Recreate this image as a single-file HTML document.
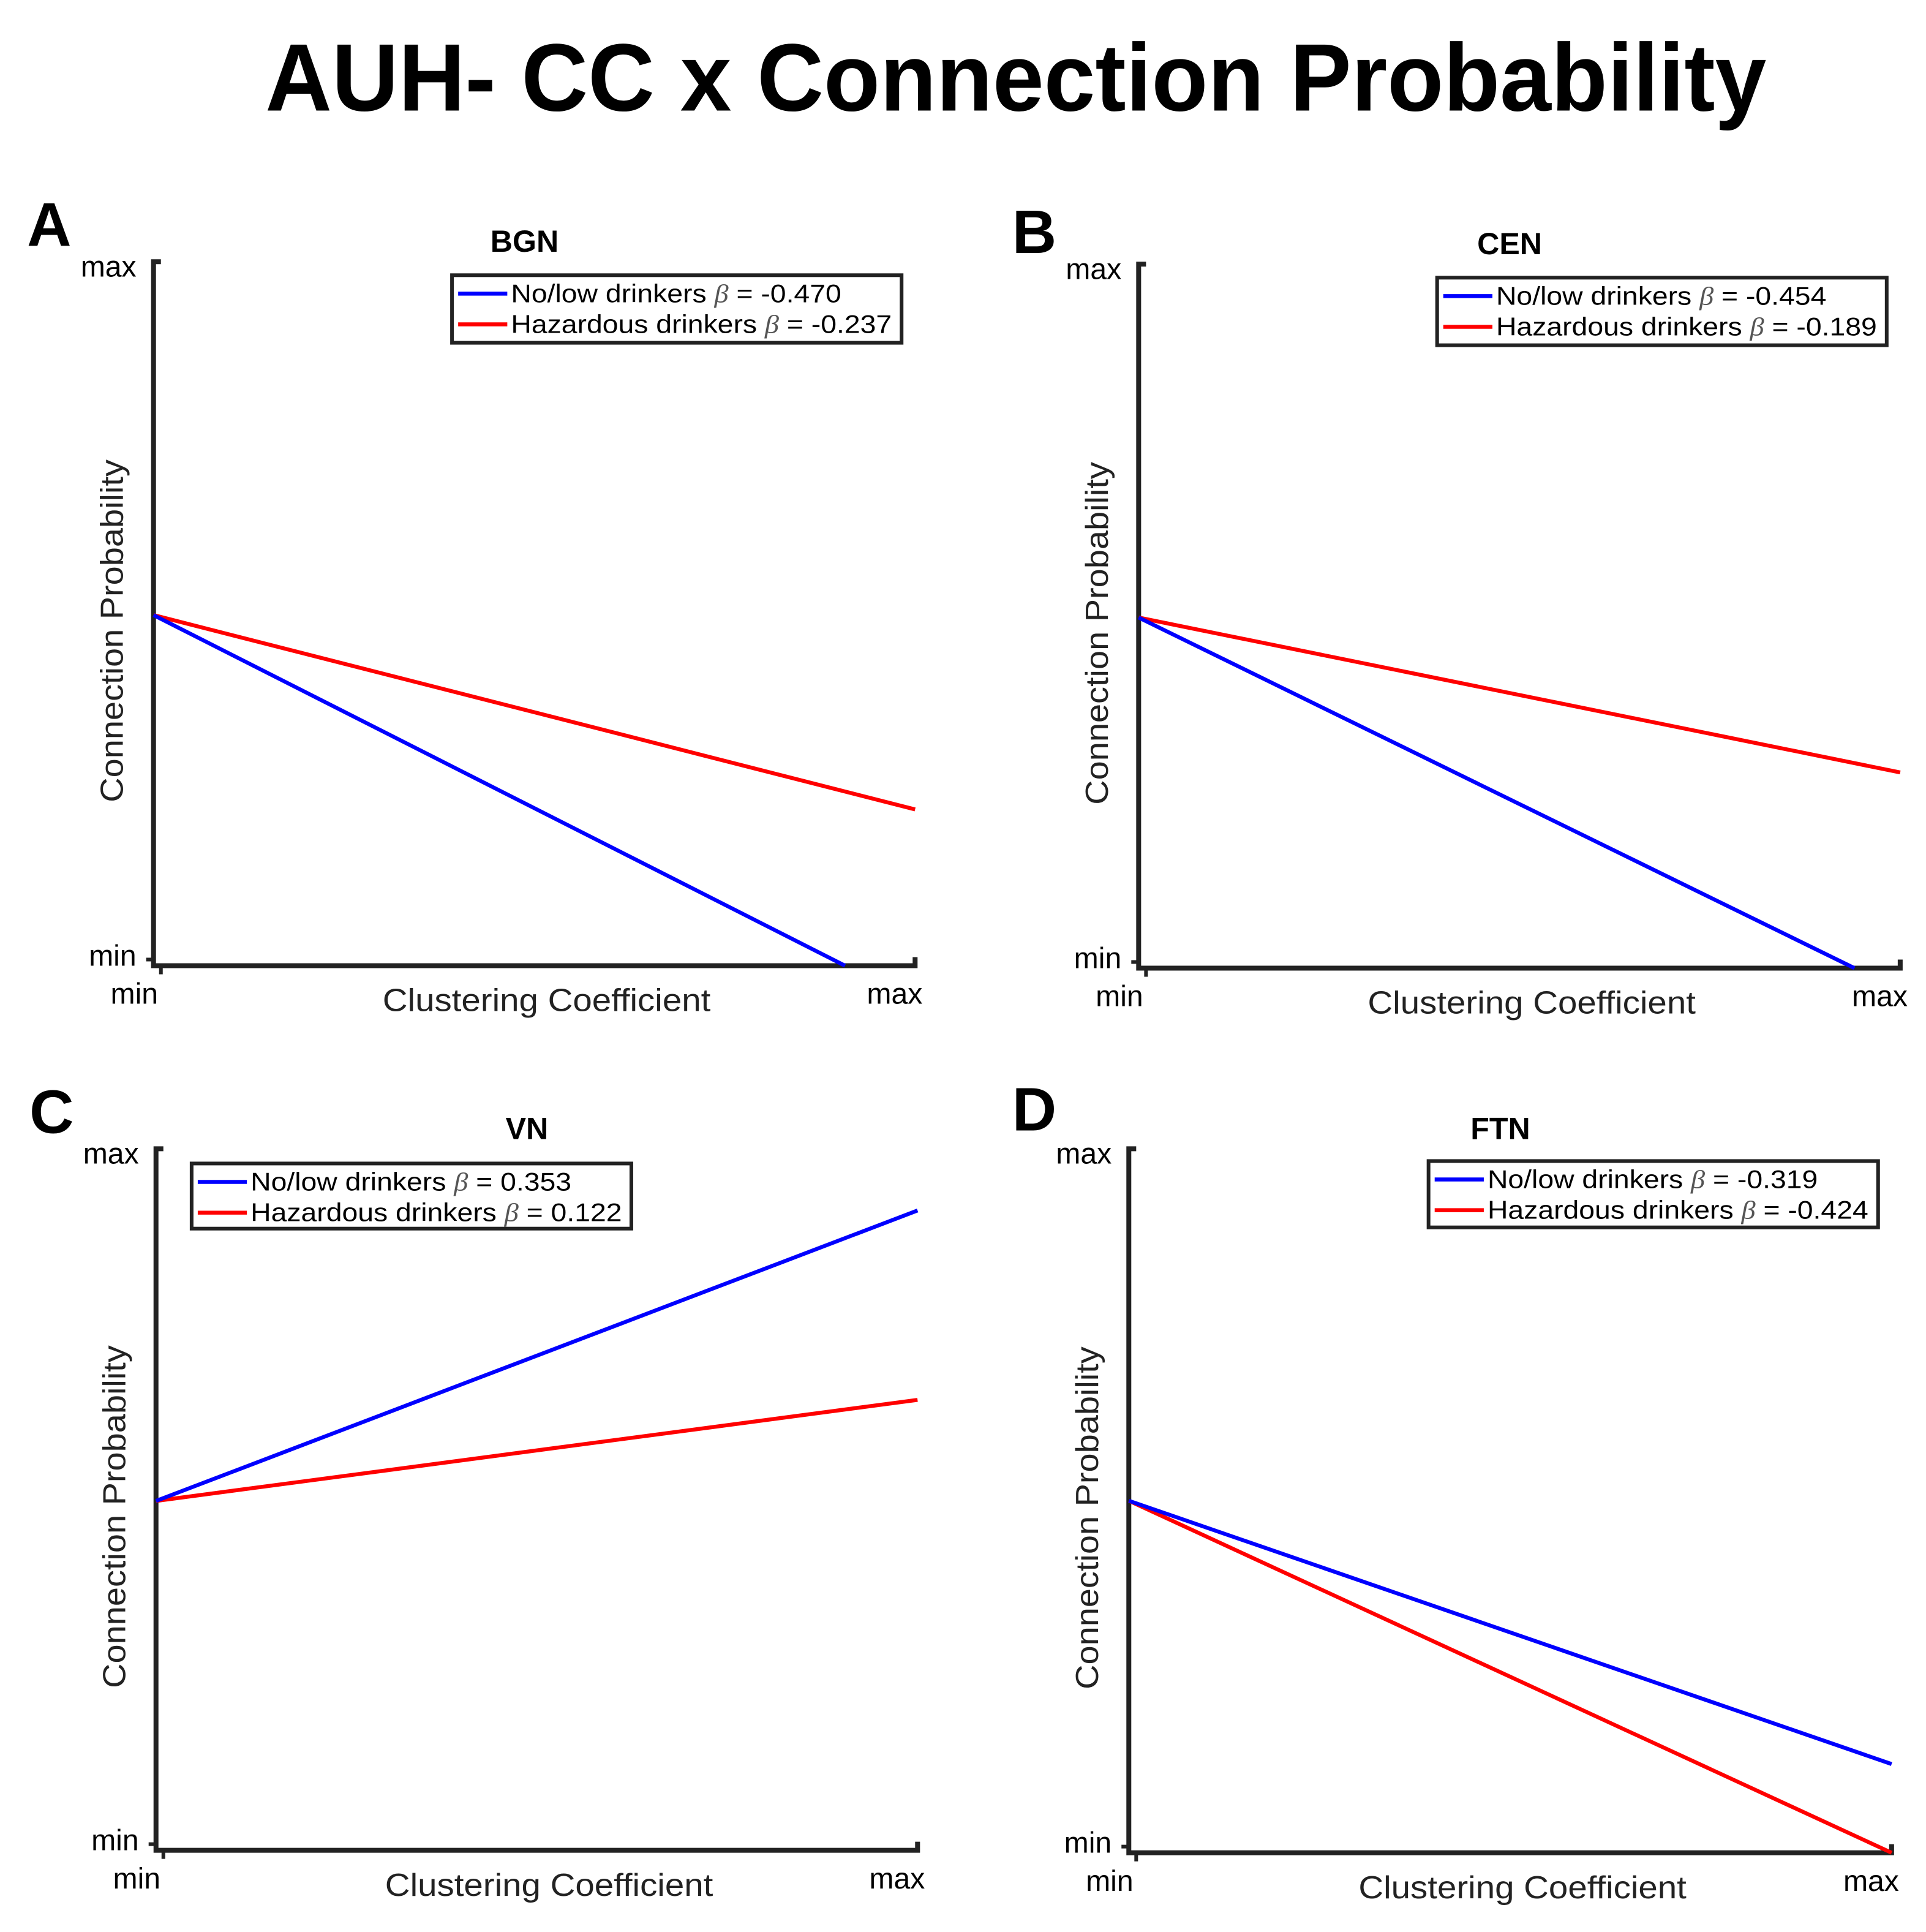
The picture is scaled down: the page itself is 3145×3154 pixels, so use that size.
<!DOCTYPE html>
<html><head><meta charset="utf-8"><style>
html,body{margin:0;padding:0;background:#fff;}
svg{display:block;}
text{font-family:"Liberation Sans","DejaVu Sans",sans-serif;}
</style></head><body>
<svg id="fig" width="3145" height="3154" viewBox="0 0 1568 1572.5" preserveAspectRatio="none" xmlns="http://www.w3.org/2000/svg">
<text x="827" y="90" text-anchor="middle" font-size="78" font-weight="bold" textLength="1222" lengthAdjust="spacingAndGlyphs">AUH- CC x Connection Probability</text>
</svg>
<script>
// Panel data (normalized 0 = min, 1 = max)
const panelIds = ['A','B','C','D'];
const panelTitles = ['BGN','CEN','VN','FTN'];
const blueBetas = ['-0.470','-0.454','0.353','-0.319'];
const redBetas = ['-0.237','-0.189','0.122','-0.424'];
const blueX = [[0,0.908],[0,0.94],[0,1],[0,1]];
const blueY = [[0.498,0],[0.498,0],[0.498,0.912],[0.5,0.126]];
const redX = [[0,1],[0,1],[0,1],[0,1]];
const redY = [[0.498,0.222],[0.498,0.278],[0.498,0.642],[0.5,0]];
const tickLabels = ['min','max'];

const layout = [
 {x0:125,x1:745,yb:786,yt:213,lg:[368,224,366,55],lx:22,ly:200},
 {x0:927,x1:1547,yb:788,yt:215,lg:[1170,226,366,55],lx:824,ly:206},
 {x0:127,x1:747,yb:1506,yt:935,lg:[156,947,358,53],lx:24,ly:922},
 {x0:919,x1:1540,yb:1508,yt:935,lg:[1163,945,366,54],lx:824,ly:920}
];
const NS='http://www.w3.org/2000/svg';
const svg=document.getElementById('fig');
function mk(tag,attrs,parent){const e=document.createElementNS(NS,tag);for(const k in attrs)e.setAttribute(k,attrs[k]);(parent||svg).appendChild(e);return e;}
function txt(s,attrs,parent){const e=mk('text',attrs,parent);e.textContent=s;return e;}

panelIds.forEach((pid,i)=>{
 const L=layout[i];
 const g=mk('g',{});
 
 
 const sx=v=>L.x0+v*(L.x1-L.x0);
 const sy=v=>L.yb-v*(L.yb-L.yt);
 const letter=txt(pid,{x:L.lx,y:L.ly,'font-size':50,'font-weight':'bold'},g);
 
 
 const t=txt(panelTitles[i],{x:(L.x0+L.x1)/2-8,y:L.yt-8,'text-anchor':'middle','font-size':25,'font-weight':'bold'},g);
 
 
 const ax=mk('path',{d:`M${L.x0+6},${L.yt} H${L.x0} V${L.yb} H${L.x1} V${L.yb-7}`,fill:'none',stroke:'#222','stroke-width':4},g);
 
 
 mk('line',{x1:L.x0-6,y1:L.yb-5,x2:L.x0,y2:L.yb-5,stroke:'#222','stroke-width':3},g);
 mk('line',{x1:L.x0+6,y1:L.yb,x2:L.x0+6,y2:L.yb+7,stroke:'#222','stroke-width':3},g);
 const yMax=txt(tickLabels[1],{x:L.x0-14,y:L.yt+12,'text-anchor':'end','font-size':24},g);
 
 
 const yMin=txt(tickLabels[0],{x:L.x0-14,y:L.yb,'text-anchor':'end','font-size':24},g);
 
 
 const xMin=txt(tickLabels[0],{x:L.x0-35,y:L.yb+31,'font-size':24},g);
 
 
 const xMax=txt(tickLabels[1],{x:L.x1+6,y:L.yb+31,'text-anchor':'end','font-size':24},g);
 
 
 const xt=txt('Clustering Coefficient',{x:(L.x0+L.x1)/2+10,y:L.yb+37,'text-anchor':'middle','font-size':26,fill:'#222',textLength:267,lengthAdjust:'spacingAndGlyphs'},g);
 
 
 const cy=(L.yt+L.yb)/2+14;
 const yt=txt('Connection Probability',{x:L.x0-25,y:cy,'text-anchor':'middle','font-size':26,fill:'#222',textLength:279,lengthAdjust:'spacingAndGlyphs',transform:`rotate(-90 ${L.x0-25} ${cy})`},g);
 
 
 const red=mk('polyline',{points:redX[i].map((x,k)=>sx(x)+','+sy(redY[i][k])).join(' '),fill:'none',stroke:'#ff0000','stroke-width':3.2},g);
 
 
 const blue=mk('polyline',{points:blueX[i].map((x,k)=>sx(x)+','+sy(blueY[i][k])).join(' '),fill:'none',stroke:'#0000ff','stroke-width':3.2},g);
 
 
 const [lx,ly,lw,lh]=L.lg;
 const lgG=mk('g',{},g);
 
 
 mk('rect',{x:lx,y:ly,width:lw,height:lh,fill:'#fff',stroke:'#222','stroke-width':3},lgG);
 const rows=[['#0000ff','No/low drinkers ',blueBetas[i]],['#ff0000','Hazardous drinkers ',redBetas[i]]];
 rows.forEach((r,k)=>{
  const yy=ly+15+k*25;
  mk('line',{x1:lx+5,y1:yy,x2:lx+45,y2:yy,stroke:r[0],'stroke-width':3.2},lgG);
  const te=txt('',{x:lx+48,y:yy+7,'font-size':21},lgG);
  
  
  const s1=mk('tspan',{},te);s1.textContent=r[1];
  const s2=mk('tspan',{'font-family':'Liberation Serif, serif','font-style':'italic',fill:'#555'},te);s2.textContent='β';
  const s3=mk('tspan',{},te);s3.textContent=' = '+r[2];
  const nat=te.getComputedTextLength();
  if(nat>0){te.setAttribute('textLength',(nat*1.1).toFixed(1));te.setAttribute('lengthAdjust','spacingAndGlyphs');}
 });
});
</script>
</body></html>
